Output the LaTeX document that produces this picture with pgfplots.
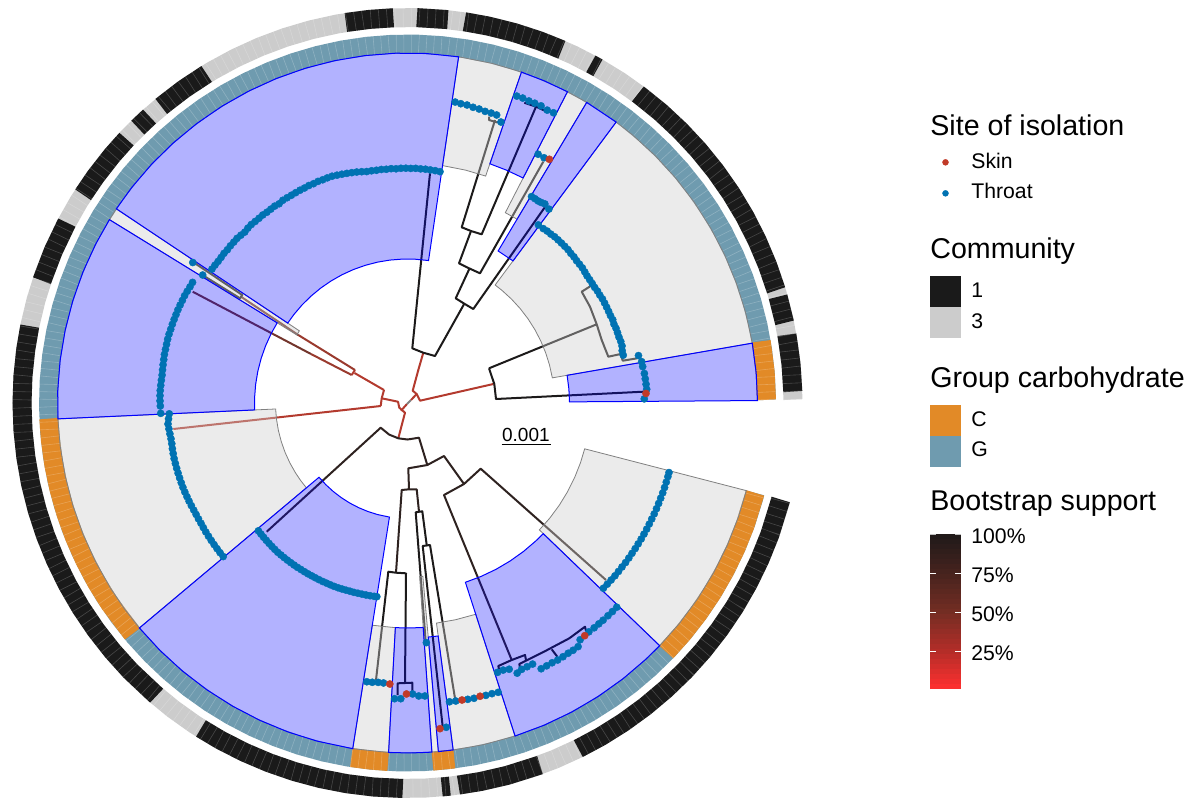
\documentclass[border=0pt]{standalone}
\usepackage{pgfplots}
\usepackage{pgfplotstable}
\usepackage{fontspec}
\setmainfont{Liberation Sans}
\pgfplotsset{compat=1.18}

\definecolor{rd}{HTML}{B33A2E}
\definecolor{rd2}{HTML}{9A3A2E}
\definecolor{br}{HTML}{73352C}
\definecolor{dk}{HTML}{1C1A1A}
\definecolor{dk2}{HTML}{2E2220}
\definecolor{blk}{HTML}{1A1A1A}
\definecolor{lgt}{HTML}{CCCCCC}
\definecolor{grpg}{HTML}{6F9BAF}
\definecolor{grpc}{HTML}{E28A27}
\definecolor{tipb}{HTML}{0072B2}
\definecolor{tipr}{HTML}{C13A28}
\definecolor{wgr}{HTML}{CCCCCC}
\definecolor{wln}{HTML}{808080}

% 1 px = 0.5 pt
\pgfplotsset{
  pic/.style={width=594.5pt,height=399.5pt,scale only axis,hide axis,clip=false},
  tr/.style={line width=1pt,line join=round,#1},
  tr/.default=dk,
  com/.style={draw=blk,line width=9.5pt},
  grp/.style={draw=grpc,line width=9.5pt},
  bw/.style={fill=blue,fill opacity=.3,draw=blue,draw opacity=1,line width=.5pt},
  gw/.style={fill=wgr,fill opacity=.4,draw=wln,draw opacity=1,line width=.4pt},
  tips/.style={only marks,mark=*,mark size=1.5pt,color=#1,mark options={line width=.2pt,draw=#1,fill=#1}},
}

% centre line of the two rings, one row every 4 degrees
\pgfplotstableread[row sep=\\]{
a c g\\
0.5 385.5 359\\ 4.5 385.5 359\\ 8.5 385.5 359\\ 12.5 385.5 359\\ 16.5 385.5 359\\ 20.5 385.5 359\\
24.5 385.5 359\\ 28.5 385.5 359\\ 32.5 385.5 359\\ 36.5 385.5 359\\ 40.5 385.5 359\\ 44.5 385.5 359\\
48.5 385.5 359\\ 52.5 385.5 359\\ 56.5 385.5 359\\ 60.5 385.5 359\\ 64.5 385.5 359\\ 68.5 385.5 359\\
72.5 385.5 359\\ 76.5 385.5 359\\ 80.5 385.5 359\\ 84.5 385.5 359\\ 88.5 385.5 359\\ 92.5 385.5 359\\
96.5 385.5 359\\ 100.5 385.5 359\\ 104.5 385.5 359\\ 108.5 385.5 359\\ 112.5 385.5 359\\ 116.5 385.5 359\\
120.5 385.5 359\\ 124.5 385.5 359\\ 128.5 385.5 359\\ 132.5 385.5 359\\ 136.5 385.5 359\\ 140.5 385.5 359\\
144.5 385.5 359\\ 148.5 385.5 359\\ 152.5 385.5 359\\ 156.5 385.5 359\\ 160.5 385.5 359\\ 164.5 385.5 359\\
168.5 385.5 359\\ 172.5 385.5 359\\ 176.5 385.5 359\\ 180.5 385.5 359\\ 184.5 385.5 359\\ 188.5 385.5 359\\
192.5 385.5 359\\ 196.5 385.5 359\\ 200.5 385.5 359\\ 204.5 385.5 359\\ 208.5 385.5 359\\ 212.5 385.5 359\\
216.5 385.5 359\\ 220.5 385.5 359\\ 224.5 385.5 359\\ 228.5 385.5 359\\ 232.5 385.5 359\\ 236.5 385.5 359\\
240.5 385.5 359\\ 244.5 385.5 359\\ 248.5 385.5 359\\ 252.5 385.5 359\\ 256.5 385.5 359\\ 260.5 385.5 359\\
264.5 385.5 359\\ 268.5 385.5 359\\ 272.5 385.5 359\\ 276.5 385.5 359\\ 280.5 385.5 359\\ 284.5 385.5 359\\
288.5 385.5 359\\ 292.5 385.5 359\\ 296.5 385.5 359\\ 300.5 385.5 359\\ 304.5 385.5 359\\ 308.5 385.5 359\\
312.5 385.5 359\\ 316.5 385.5 359\\ 320.5 385.5 359\\ 324.5 385.5 359\\ 328.5 385.5 359\\ 332.5 385.5 359\\
336.5 385.5 359\\ 340.5 385.5 359\\ 344.5 385.5 359\\ 345.5 385.5 359\\
}\ringarc

% colour bar of the legend
\pgfplotstableread[row sep=\\]{
y m\\
689 0\\ 684 3.2\\ 679 6.5\\ 674 9.7\\ 669 12.9\\ 664 16.1\\ 659 19.4\\ 654 22.6\\
649 25.8\\ 644 29\\ 639 32.3\\ 634 35.5\\ 629 38.7\\ 624 41.9\\ 619 45.2\\ 614 48.4\\
609 51.6\\ 604 54.8\\ 599 58.1\\ 594 61.3\\ 589 64.5\\ 584 67.7\\ 579 71\\ 574 74.2\\
569 77.4\\ 564 80.6\\ 559 83.9\\ 554 87.1\\ 549 90.3\\ 544 93.5\\ 539 96.8\\ 534 100\\
}\bootbar

\begin{document}
\begin{tikzpicture}

% tree and legend, in pixels of the reference
\begin{axis}[pic,xmin=0,xmax=1189,ymin=0,ymax=799,y dir=reverse,
  colormap={boot}{rgb255(0)=(255,48,48) rgb255(25)=(178,45,40) rgb255(50)=(115,45,35) rgb255(75)=(70,35,30) rgb255(100)=(30,25,25)},
  point meta min=0,point meta max=100]

\addplot[draw=none] coordinates {(0,0)(1189,799)};

% deep branches
\addplot[tr=rd] coordinates {(384,390)(381.7,398.3)(380.7,406)};
\addplot[tr=rd] coordinates {(381.7,398.3)(398,401.7)(399.3,407.7)(405,412.7)(398.3,438.3)};
\addplot[tr=rd] coordinates {(380.7,406)(173.3,429)};
\addplot[tr=rd] coordinates {(384,390)(354.5,373)};
\addplot[tr=rd] coordinates {(355,370)(351.7,375)};
\addplot[tr=rd2] coordinates {(355,370)(298.3,335)};
\addplot[tr=br] coordinates {(298.3,335)(241,296.7)};
\addplot[tr=rd2] coordinates {(351.7,375)(311,354)};
\addplot[tr=br] coordinates {(311,354)(192.7,291.7)};
\addplot[tr=rd] coordinates {(401,410.7)(407,404)};
\addplot[tr=gray] coordinates {(407,404)(411,400)};
\addplot[tr=rd] coordinates {(411,400)(416.7,394)};
\addplot[tr=rd] coordinates {(418.3,370)(412.7,390.7)(416.7,394)(420,400.7)(493.3,384)};
\addplot[tr=rd] coordinates {(418.3,370)(423.3,352.7)};

% upper right part
\addplot[tr] coordinates {(489,368.3)(494.3,384)(496,399)(643.3,391.7)};
\addplot[tr] coordinates {(489,368.3)(596.7,324.3)};
\addplot[tr] coordinates {(590.7,286)(581.7,291.7)(590,306.7)(596.7,324.3)(601.7,340)(608.3,356.7)(620.7,354)(622.7,360.7)(637.3,358.3)};
\addplot[tr] coordinates {(430,173.3)(412.3,348.3)(423.3,352.7)(435,356)(464.3,303.7)};
\addplot[tr] coordinates {(469.5,268.5)(455.7,298.3)(464.3,303.7)(473.3,309)(545,207)};
\addplot[tr] coordinates {(471,231)(459,263.3)(469.5,268.5)(480,273.3)(543.3,161.7)};
\addplot[tr] coordinates {(495,120)(461.7,227.3)(471,231)(481.7,234.3)(536,106.7)};
\addplot[tr] coordinates {(489,116.7)(489,120)(496.7,122.3)(501,122)};
\addplot[tr] coordinates {(524.3,102.7)(536,106.7)(548.3,112.3)};
\addplot[tr] coordinates {(195,263.3)(242.3,295)(240,298.3)(204,276)};

% lower part
\addplot[tr=dk2] coordinates {(266.7,531.7)(380.7,427.7)(389.2,434.6)(398.3,438.3)(407.5,439.5)(419,437.7)(427.3,465)};
\addplot[tr=dk2] coordinates {(409,489.3)(408.3,468.3)(427.3,465)(444,456)(464,484)};
\addplot[tr=dk2] coordinates {(511.7,660)(444,495)(464,484)(480.7,468.7)(606,580)};
\addplot[tr] coordinates {(499,669)(498.3,666)(511.7,660)(525,655)(526,660)};
\addplot[tr] coordinates {(520,668)(519.3,664)(544,651.7)(569.3,638.3)(585,626.7)(586,630.7)};
\addplot[tr] coordinates {(551.7,649.3)(557.3,656.7)};
\addplot[tr=dk2] coordinates {(396,572.7)(401.7,490)(409,489.3)(416.7,489.3)(419,511.7)};
\addplot[tr] coordinates {(376,680)(388.3,571.7)(396,572.7)(406,573.3)(405,682.7)};
\addplot[tr] coordinates {(397.7,695)(397.7,683.3)(412.3,682.7)(412.3,692.7)};
\addplot[tr] coordinates {(425.7,641.7)(415.7,512.3)(422.3,511.3)(426.7,545)};
\addplot[tr] coordinates {(442.7,726.7)(422.7,546)(430,545)(455,698.3)};

% scale
\node[anchor=base west,inner sep=0pt] at (axis cs:501.7,441) {\fontsize{9.5}{11}\selectfont 0.001};
\addplot[black,line width=.5pt] coordinates {(501.7,444.5)(550.5,444.5)};

% legend
\node[anchor=base west,inner sep=0pt] at (axis cs:930,135) {\fontsize{14.3}{17}\selectfont Site of isolation};
\addplot[tips=tipr] coordinates {(945.5,162.3)};
\addplot[tips=tipb] coordinates {(945.5,193.3)};
\node[anchor=base west,inner sep=0pt] at (axis cs:971,168.3) {\fontsize{10.6}{12}\selectfont Skin};
\node[anchor=base west,inner sep=0pt] at (axis cs:971,198.7) {\fontsize{10.6}{12}\selectfont Throat};

\node[anchor=base west,inner sep=0pt] at (axis cs:930,258.3) {\fontsize{14.3}{17}\selectfont Community};
\addplot[fill=blk,draw=none] coordinates {(930,276)(961,276)(961,307)(930,307)} --cycle;
\addplot[fill=lgt,draw=none] coordinates {(930,307)(961,307)(961,338)(930,338)} --cycle;
\node[anchor=base west,inner sep=0pt] at (axis cs:971,297.3) {\fontsize{10.6}{12}\selectfont 1};
\node[anchor=base west,inner sep=0pt] at (axis cs:971,328.3) {\fontsize{10.6}{12}\selectfont 3};

\node[anchor=base west,inner sep=0pt] at (axis cs:930,387.3) {\fontsize{14.3}{17}\selectfont Group carbohydrate};
\addplot[fill=grpc,draw=none] coordinates {(930,405)(961,405)(961,436)(930,436)} --cycle;
\addplot[fill=grpg,draw=none] coordinates {(930,436)(961,436)(961,467)(930,467)} --cycle;
\node[anchor=base west,inner sep=0pt] at (axis cs:971,426) {\fontsize{10.6}{12}\selectfont C};
\node[anchor=base west,inner sep=0pt] at (axis cs:971,456.7) {\fontsize{10.6}{12}\selectfont G};

\node[anchor=base west,inner sep=0pt] at (axis cs:930,510.7) {\fontsize{14.3}{17}\selectfont Bootstrap support};
\addplot[mesh,line width=15.5pt,point meta=explicit] table[x expr=945.5,y=y,meta=m] {\bootbar};
\addplot[white,line width=.5pt] coordinates {(930,573.7)(936,573.7)};
\addplot[white,line width=.5pt] coordinates {(955,573.7)(961,573.7)};
\addplot[white,line width=.5pt] coordinates {(930,612.3)(936,612.3)};
\addplot[white,line width=.5pt] coordinates {(955,612.3)(961,612.3)};
\addplot[white,line width=.5pt] coordinates {(930,651)(936,651)};
\addplot[white,line width=.5pt] coordinates {(955,651)(961,651)};
\addplot[lightgray,line width=.5pt] coordinates {(930,534.3)(936,534.3)};
\addplot[lightgray,line width=.5pt] coordinates {(955,534.3)(961,534.3)};
\node[anchor=base west,inner sep=0pt] at (axis cs:971,543.3) {\fontsize{10.6}{12}\selectfont 100\%};
\node[anchor=base west,inner sep=0pt] at (axis cs:971,582.3) {\fontsize{10.6}{12}\selectfont 75\%};
\node[anchor=base west,inner sep=0pt] at (axis cs:971,621.7) {\fontsize{10.6}{12}\selectfont 50\%};
\node[anchor=base west,inner sep=0pt] at (axis cs:971,660) {\fontsize{10.6}{12}\selectfont 25\%};
\end{axis}

% rings, clades and tips, as (angle, radius) round the centre of the circle
\begin{axis}[pic,xmin=-407.5,xmax=781.5,ymin=-396,ymax=403,data cs=polar]

% community ring
\addplot[draw=lgt,line width=9.5pt] table[x=a,y=c] {\ringarc};
\addplot[com] coordinates {(1.7,385.5)(5.9,385.5)(10.2,385.5)};
\addplot[com] coordinates {(12,385.5)(16,385.5)};
\addplot[com] coordinates {(17,385.5)(21,385.5)(25,385.5)(29,385.5)(33,385.5)(37,385.5)(41,385.5)(45,385.5)(49,385.5)(53.3,385.5)};
\addplot[com] coordinates {(60.4,385.5)(61.6,385.5)};
\addplot[com] coordinates {(66.4,385.5)(70,385.5)(74,385.5)(78,385.5)(81.5,385.5)};
\addplot[com] coordinates {(84,385.5)(88.6,385.5)};
\addplot[com] coordinates {(92.1,385.5)(95.6,385.5)(99.2,385.5)};
\addplot[com] coordinates {(121.4,385.5)(125.5,385.5)(129.7,385.5)};
\addplot[com] coordinates {(132,385.5)(134.4,385.5)};
\addplot[com] coordinates {(136.8,385.5)(140,385.5)(144,385.5)(147.3,385.5)};
\addplot[com] coordinates {(152.1,385.5)(156.8,385.5)(161.5,385.5)};
\addplot[com] coordinates {(168.5,385.5)(172,385.5)(176,385.5)(180,385.5)(184,385.5)(188,385.5)(192,385.5)(196,385.5)(200,385.5)(204,385.5)(208,385.5)(212,385.5)(216,385.5)(220,385.5)(224,385.5)(229.4,385.5)};
\addplot[com] coordinates {(237.6,385.5)(241,385.5)(245,385.5)(249,385.5)(253,385.5)(257,385.5)(261,385.5)(265,385.5)(269.3,385.5)};
\addplot[com] coordinates {(275.1,385.5)(276.3,385.5)};
\addplot[com] coordinates {(277.6,385.5)(281,385.5)(285,385.5)(290.1,385.5)};
\addplot[com] coordinates {(296.3,385.5)(300,385.5)(304,385.5)(308,385.5)(312,385.5)(316,385.5)(320,385.5)(324,385.5)(328,385.5)(332,385.5)(336,385.5)(340,385.5)(345.5,385.5)};
\addplot[draw=white,draw opacity=.2,line width=9.5pt,dash pattern=on .3pt off 3.74pt] table[x=a,y=c] {\ringarc};

% carbohydrate ring
\addplot[draw=grpg,line width=9.5pt] table[x=a,y=g] {\ringarc};
\addplot[grp] coordinates {(0.5,359)(5,359)(9.9,359)};
\addplot[grp] coordinates {(182.5,359)(186,359)(190,359)(194,359)(198,359)(202,359)(206,359)(210,359)(214,359)(220,359)};
\addplot[grp] coordinates {(261,359)(264,359)(266.9,359)};
\addplot[grp] coordinates {(274,359)(277.5,359)};
\addplot[grp] coordinates {(316.1,359)(320,359)(324,359)(328,359)(332,359)(336,359)(340,359)(345.5,359)};
\addplot[draw=white,draw opacity=.22,line width=9.5pt,dash pattern=on .3pt off 3.46pt] table[x=a,y=g] {\ringarc};

% grey clades
\addplot[gw] coordinates {(9.85,147)(15,147)(20,147)(25,147)(30,147)(35,147)(40,147)(45,147)(50,147)(53.4,147)(53.4,350)(50,350)(45,350)(40,350)(35,350)(30,350)(25,350)(20,350)(15,350)(9.85,350)} --cycle;
\addplot[gw] coordinates {(59.2,214)(62.8,214)(62.8,350)(59.2,350)} --cycle;
\addplot[gw] coordinates {(71,240)(76,240)(81.6,240)(81.6,350)(76,350)(71,350)} --cycle;
\addplot[gw] coordinates {(146.3,130)(148.4,130)(148.4,350)(146.3,350)} --cycle;
\addplot[gw] coordinates {(182.6,132)(187,132)(192,132)(197,132)(202,132)(207,132)(212,132)(216,132)(220,132)(220,350)(216,350)(212,350)(207,350)(202,350)(197,350)(192,350)(187,350)(182.6,350)} --cycle;
\addplot[gw] coordinates {(261,225)(266.9,225)(266.9,350)(261,350)} --cycle;
\addplot[gw] coordinates {(274,174)(275.06,174)(275.06,350)(274,350)} --cycle;
\addplot[gw] coordinates {(277.5,222)(282.5,222)(287.9,222)(287.9,350)(282.5,350)(277.5,350)} --cycle;
\addplot[gw] coordinates {(316.1,183)(321,183)(326,183)(331,183)(336,183)(341,183)(345.5,183)(345.5,350)(341,350)(336,350)(331,350)(326,350)(321,350)(316.1,350)} --cycle;

% blue clades
\addplot[bw] coordinates {(0.4,162)(5,162)(9.85,162)(9.85,350)(5,350)(0.4,350)} --cycle;
\addplot[bw] coordinates {(53.4,177)(59.2,177)(59.2,350)(53.4,350)} --cycle;
\addplot[bw] coordinates {(62.8,253)(67,253)(71,253)(71,350)(67,350)(62.8,350)} --cycle;
\addplot[bw] coordinates {(81.6,144)(87,144)(92,144)(97,144)(102,144)(107,144)(112,144)(117,144)(122,144)(127,144)(132,144)(137,144)(142,144)(146.3,144)(146.3,350)(142,350)(137,350)(132,350)(127,350)(122,350)(117,350)(112,350)(107,350)(102,350)(97,350)(92,350)(87,350)(81.6,350)} --cycle;
\addplot[bw] coordinates {(148.4,153)(153,153)(158,153)(163,153)(168,153)(173,153)(178,153)(182.6,153)(182.6,350)(178,350)(173,350)(168,350)(163,350)(158,350)(153,350)(148.4,350)} --cycle;
\addplot[bw] coordinates {(220,115.5)(225,115.5)(230,115.5)(235,115.5)(240,115.5)(245,115.5)(250,115.5)(255,115.5)(261,115.5)(261,350)(255,350)(250,350)(245,350)(240,350)(235,350)(230,350)(225,350)(220,350)} --cycle;
\addplot[bw] coordinates {(266.9,225)(270.5,225)(274,225)(274,350)(270.5,350)(266.9,350)} --cycle;
\addplot[bw] coordinates {(275.06,235)(277.5,235)(277.5,350)(275.06,350)} --cycle;
\addplot[bw] coordinates {(287.9,188.4)(293,188.4)(298,188.4)(303,188.4)(308,188.4)(313,188.4)(316.1,188.4)(316.1,350)(313,350)(308,350)(303,350)(298,350)(293,350)(287.9,350)} --cycle;

% tips, throat
\addplot[tips=tipb,mark size=1.8pt] coordinates {
(1,236.8)(3.3,239.6)(4.5,239.3)(5.8,239)(7.1,238.7)(8.8,238)(10,237.8)(11.6,235.8)
(12.5,221)(13.7,221)(14.9,222)(16.1,222)(17.3,221.5)(18.5,221.5)(19.7,221.5)(20.9,221)(22.1,221.5)(23.3,221)(24.5,221)(25.7,221)(26.9,221)(28.1,221)(29.3,220.5)(30.5,220.5)(31.7,220)(32.9,220)(34.1,220)(35.3,220)(36.5,220.5)(37.7,221)(38.9,221)(40.1,221)(41.3,221.5)(42.5,221.5)(43.7,222)(44.9,222)(46.1,222)(47.3,222)(48.5,222)(49.7,221.5)(50.9,221.5)(52.1,221)(53.7,221)
(53.9,240)(55.4,241.9)(56.3,241)(57.1,240.6)(58,240.8)(59,240.8)
(62.3,281)(60.9,280.7)
(70.4,325.8)(69.3,326)(68.1,325.5)(67,325.7)(65.8,325.8)(64.5,324.5)(63.3,324.9)
(81,304.7)(79.9,304)(78.7,303.9)(77.5,302.9)(76.3,302.6)(75.1,301.8)(73.9,301.8)(72.8,301.5)(71.6,296.1)
(82,233.6)(83.2,234)(84.4,234.2)(85.6,234.5)(86.8,234.5)(88,234.8)(89.2,234.6)(90.4,234.8)(91.6,234.8)(92.8,234.5)(94,234.9)(95.2,234.7)(96.4,235)(97.6,234.8)(98.8,235)(100,235)(101.2,235.8)(102.4,236.5)(103.6,237)(104.8,237.5)(106,238)(107.2,238.5)(108.4,239)(109.6,239)(110.8,238.8)(112,239)(113.2,238.6)(114.4,238.8)(115.6,238.4)(116.8,238.4)(118,238.2)(119.2,238)(120.4,238)(121.6,238)(122.8,237)(124,237.5)(125.2,237.2)(126.4,237)(127.6,237.3)(128.8,237)(130,237)(131.2,237.2)(132.4,236.8)(133.6,236)(134.8,236.5)(136,237)(137.2,236.8)(138.4,236.8)(139.6,236.5)(140.8,236.8)(142,236.5)(143.2,236.5)(144.4,236.8)(145.6,237)
(146.8,256.6)(148,241.5)
(150.7,246.5)(151.9,246.6)(153.1,247)(154.3,247.4)(155.5,247.4)(156.7,247.6)(157.9,247.8)(159.1,247.8)(160.3,247.9)(161.5,248)(162.7,248)(163.9,248.2)(165.1,248.2)(166.3,248)(167.5,247.9)(168.7,247.9)(169.9,247.6)(171.1,247.4)(172.3,247.2)(173.5,247)(174.7,247.2)(175.9,247.4)(177.1,247.6)(178.3,247.6)(179.5,247.5)(180.7,247.2)(182.4,247)
(182.6,238.5)(183.8,239.5)(185,240.4)(186.2,240)(187.4,239.6)(188.6,239.2)(189.8,239.2)(191,239.5)(192.2,239.7)(193.4,239.9)(194.6,239.9)(195.8,239.9)(197,239.9)(198.2,239.9)(199.4,239.9)(200.6,239.9)(201.8,239.8)(203,239.6)(204.2,239.5)(205.4,239.3)(206.6,239.1)(207.8,239)(209,239)(210.2,239)(211.4,239.2)(212.6,239.4)(213.8,239.5)(215,239.6)(216.2,239.7)(217.4,239.8)(218.6,239.9)(219.8,239.9)
(220.6,196.4)(221.8,196.6)(223,196.8)(224.2,197)(225.4,197.2)(226.6,197.4)(227.8,197.6)(229,197.8)(230.2,197.8)(231.4,197.8)(232.6,197.8)(233.8,197.8)(235,197.8)(236.2,197.8)(237.4,197.7)(238.6,197.7)(239.8,197.7)(241,197.6)(242.2,197.6)(243.4,197.6)(244.6,197.6)(245.8,197.5)(247,197.5)(248.2,197.5)(249.4,197.4)(250.6,197.2)(251.8,197)(253,196.8)(254.2,196.8)(255.4,196.6)(256.6,196.5)(257.8,196.4)(259,196.3)(260.2,196.2)(261,196.1)
(261.7,281.7)(262.8,281.5)(264,280.9)(265.1,281)
(267.5,296)(268.7,295.8)(271,291)(272.2,293.2)(273.4,293.5)
(274.5,240.4)(276.8,326.6)
(278,301.7)(279.2,301.9)(281.5,302.4)(282.7,302.7)(285,302.7)(286.2,302.7)(287.4,303.2)
(288.5,284)(289.7,283.7)(290.9,285)(292.1,291.6)(293.2,289.8)(294.4,289.6)(295.6,289.5)(296.7,297.5)(297.9,297.4)(299.1,297.3)(300.3,297.7)(301.5,297.6)(302.7,297.4)(303.8,297.6)(305,297.4)(306.1,293)(308.4,292)(309.7,292.2)(310.9,292.2)(312,292.3)(313.3,292.3)(314.5,292.4)(315.7,292.4)
(316.6,269.6)(317.8,269.7)(319,269.8)(320.2,270)(321.4,270)(322.6,270)(323.8,270.2)(325,270.2)(326.2,270.2)(327.4,270.3)(328.6,270.3)(329.8,270.4)(331,270.4)(332.2,270.4)(333.4,270.4)(334.6,270.4)(335.8,270.5)(337,270.5)(338.2,270.5)(339.4,270.5)(340.6,270.6)(341.8,270.6)(343,270.6)(344.2,270.6)(345.1,270.6)
};
% tips, skin
\addplot[tips=tipr,mark size=1.8pt] coordinates {(2.3,238.7)(59.8,282)(266.4,281.6)(269.8,291)(275.7,327.3)(280.4,302)(283.9,302.1)(307.3,292.5)};

\end{axis}
\end{tikzpicture}
\end{document}
